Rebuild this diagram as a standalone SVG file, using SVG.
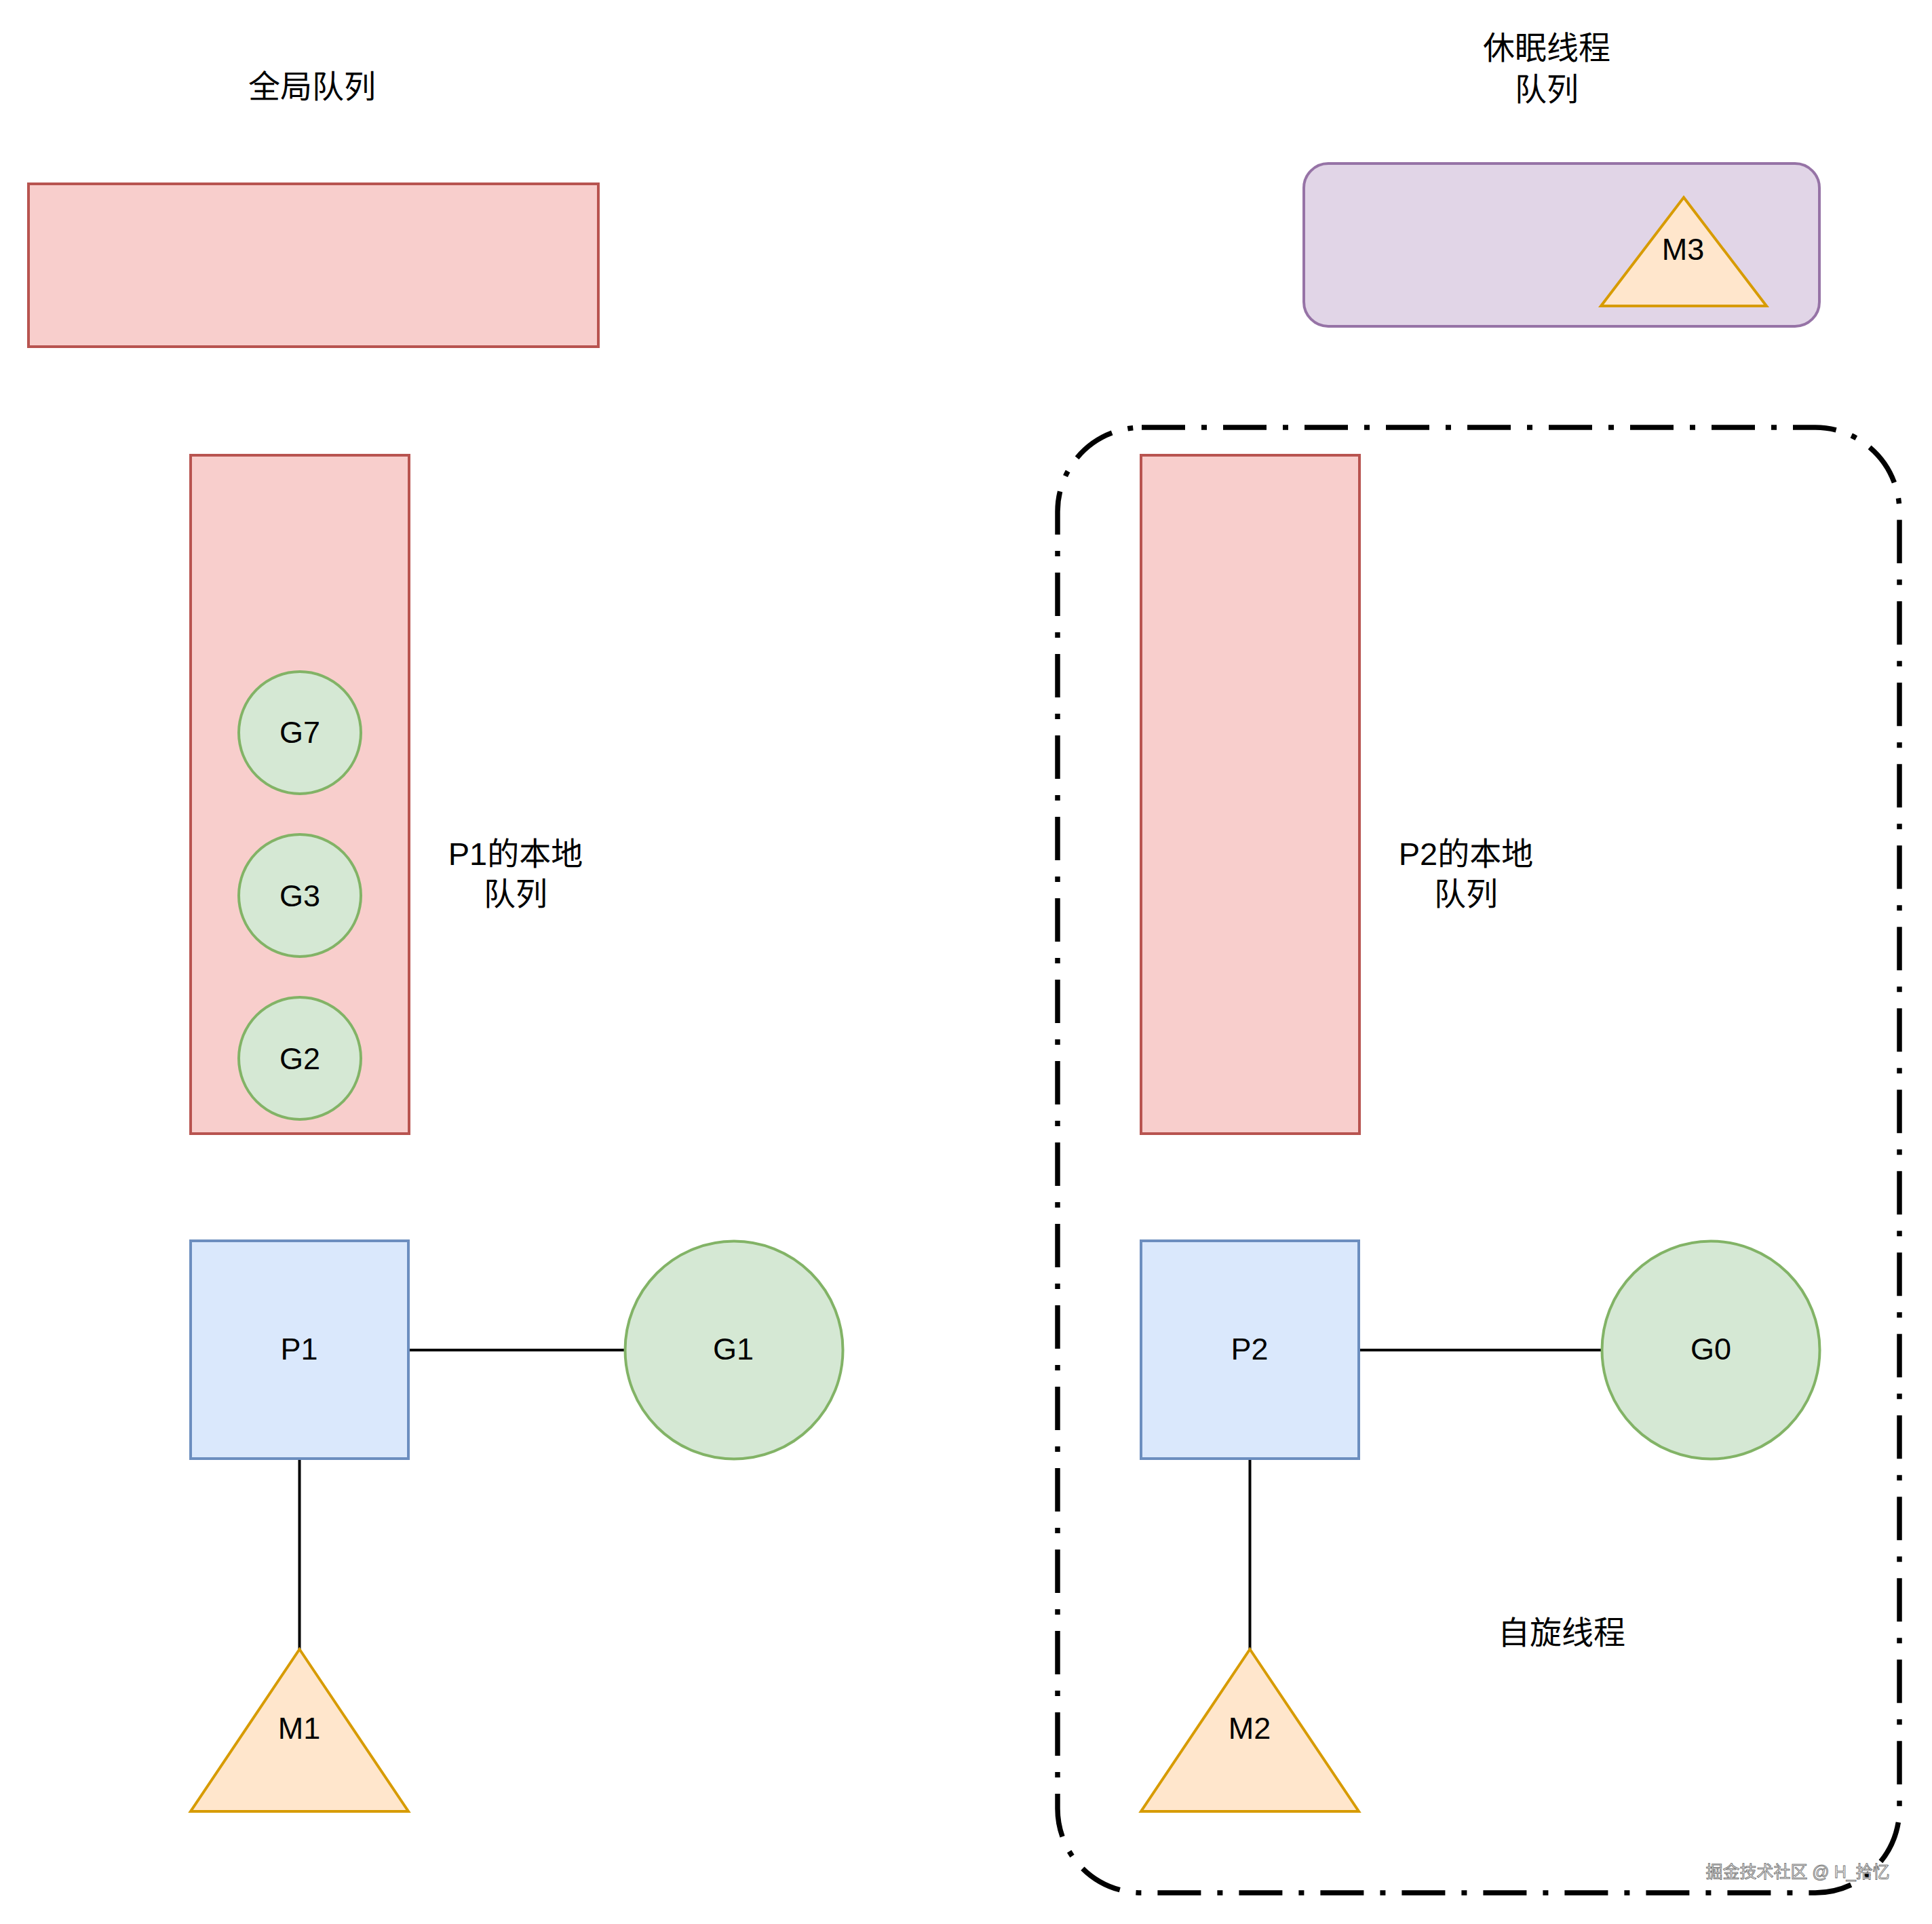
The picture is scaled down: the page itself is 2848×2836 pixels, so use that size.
<svg xmlns="http://www.w3.org/2000/svg" width="2848" height="2836" viewBox="0 0 2848 2836">
  <style>
    .red { fill: #f8cecc; stroke: #b85450; stroke-width: 4; }
    .blue { fill: #dae8fc; stroke: #6c8ebf; stroke-width: 4; }
    .green { fill: #d5e8d4; stroke: #82b366; stroke-width: 4; }
    .orange { fill: #ffe6cc; stroke: #d79b00; stroke-width: 4; stroke-linejoin: miter; }
    .purple { fill: #e1d5e7; stroke: #9673a6; stroke-width: 4; }
    .lbl { font-family: "Liberation Sans", "Noto Sans CJK SC", sans-serif; font-size: 45px; fill: #000000; text-anchor: middle; }
    .cjk { font-family: "Liberation Sans", "Noto Sans CJK SC", sans-serif; font-size: 47px; fill: #000000; text-anchor: middle; }
    .edge { fill: none; stroke: #000000; stroke-width: 4; }
    .group { fill: none; stroke: #000000; stroke-width: 7.5; stroke-dasharray: 64 24 8 24; }
    .wm { font-family: "Liberation Sans", "Noto Sans CJK SC", sans-serif; font-size: 25px; fill: #fafafa; stroke: #7a7a7a; stroke-width: 1; text-anchor: middle; }
  </style>

  <!-- spinning-thread group boundary -->
  <g id="spin-group">
    <path class="group" d="M1683 630 L2676 630 A124 124 0 0 1 2800 754 L2800 2666 A124 124 0 0 1 2676 2790 L1683 2790 A124 124 0 0 1 1559 2666 L1559 754 A124 124 0 0 1 1683 630 Z"/>
  </g>

  <g id="label-global">
    <text class="cjk" x="460" y="144">全局队列</text>
  </g>
  <g id="global-queue">
    <rect class="red" x="42" y="271" width="840" height="240"/>
  </g>

  <g id="label-sleep">
    <text class="cjk" x="2280" y="87">休眠线程</text>
    <text class="cjk" x="2280" y="148">队列</text>
  </g>
  <g id="sleep-queue">
    <rect class="purple" x="1922" y="241" width="760" height="240" rx="36" ry="36"/>
  </g>
  <g id="M3">
    <polygon class="orange" points="2482,291 2604,451 2360,451"/>
    <text class="lbl" x="2481" y="383">M3</text>
  </g>

  <g id="p1-local-queue">
    <rect class="red" x="281" y="671" width="322" height="1000"/>
  </g>
  <g id="G7">
    <circle class="green" cx="442" cy="1080" r="90"/>
    <text class="lbl" x="442" y="1095">G7</text>
  </g>
  <g id="G3">
    <circle class="green" cx="442" cy="1320" r="90"/>
    <text class="lbl" x="442" y="1336">G3</text>
  </g>
  <g id="G2">
    <circle class="green" cx="442" cy="1560" r="90"/>
    <text class="lbl" x="442" y="1576">G2</text>
  </g>
  <g id="label-p1-local">
    <text class="cjk" x="760" y="1275">P1的本地</text>
    <text class="cjk" x="760" y="1334">队列</text>
  </g>

  <g id="p2-local-queue">
    <rect class="red" x="1682" y="671" width="322" height="1000"/>
  </g>
  <g id="label-p2-local">
    <text class="cjk" x="2161" y="1275">P2的本地</text>
    <text class="cjk" x="2161" y="1334">队列</text>
  </g>

  <g id="connectors">
    <line class="edge" x1="602" y1="1990" x2="921" y2="1990"/>
    <line class="edge" x1="441.5" y1="2150" x2="441.5" y2="2431"/>
    <line class="edge" x1="2003" y1="1990" x2="2362" y2="1990"/>
    <line class="edge" x1="1842.5" y1="2150" x2="1842.5" y2="2431"/>
  </g>

  <g id="P1">
    <rect class="blue" x="281" y="1829" width="321" height="321"/>
    <text class="lbl" x="441" y="2004">P1</text>
  </g>
  <g id="G1">
    <circle class="green" cx="1082" cy="1990" r="160.5"/>
    <text class="lbl" x="1081" y="2004">G1</text>
  </g>
  <g id="M1">
    <polygon class="orange" points="441.5,2431 602,2670 281,2670"/>
    <text class="lbl" x="441" y="2563">M1</text>
  </g>

  <g id="P2">
    <rect class="blue" x="1682" y="1829" width="321" height="321"/>
    <text class="lbl" x="1842" y="2004">P2</text>
  </g>
  <g id="G0">
    <circle class="green" cx="2522" cy="1990" r="160.5"/>
    <text class="lbl" x="2522" y="2004">G0</text>
  </g>
  <g id="M2">
    <polygon class="orange" points="1842.5,2431 2003,2670 1682,2670"/>
    <text class="lbl" x="1842" y="2563">M2</text>
  </g>

  <g id="label-spin">
    <text class="cjk" x="2302" y="2423">自旋线程</text>
  </g>

  <g id="watermark">
    <text class="wm" x="2650" y="2768">掘金技术社区 @ H_拾忆</text>
  </g>
</svg>
